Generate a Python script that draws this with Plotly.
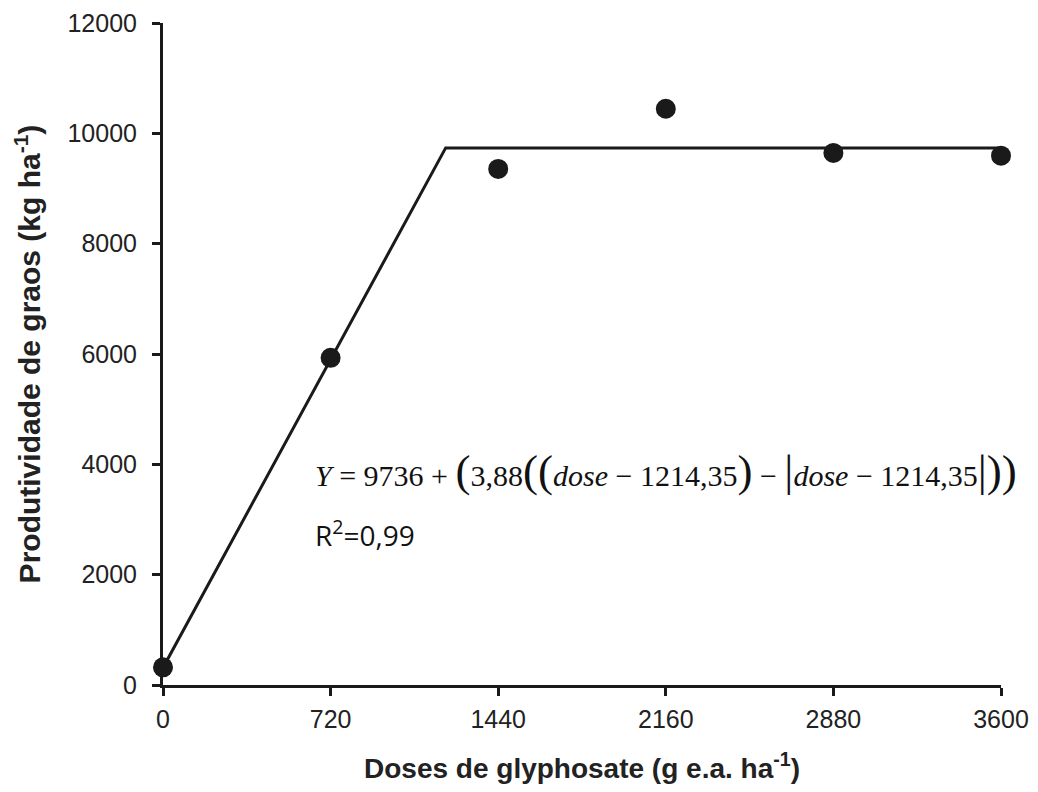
import plotly.graph_objects as go

doses = [0, 720, 1440, 2160, 2880, 3600]
yield_obs = [320, 5930, 9355, 10445, 9645, 9595]

fit_dose = [0, 1214.35, 3600]
fit_yield = [313, 9736, 9736]

x_ticks = [0, 720, 1440, 2160, 2880, 3600]
y_ticks = [0, 2000, 4000, 6000, 8000, 10000, 12000]

fig = go.Figure()
fig.add_trace(go.Scatter(x=fit_dose, y=fit_yield, mode="lines",
                         line=dict(color="#1a1a1a", width=3),
                         showlegend=False, cliponaxis=False))
fig.add_trace(go.Scatter(x=doses, y=yield_obs, mode="markers",
                         marker=dict(color="#1a1a1a", size=20, symbol="circle"),
                         showlegend=False, cliponaxis=False))

SANS = "Liberation Sans, Arial, sans-serif"
fig.update_layout(
    width=1022, height=776,
    margin=dict(l=155, r=29, t=15, b=99),
    plot_bgcolor="white", paper_bgcolor="white",
    font=dict(family=SANS, size=25, color="#222"),
    xaxis=dict(range=[0, 3600], tickvals=x_ticks, ticktext=[str(v) for v in x_ticks],
               automargin=False,
               showgrid=False, zeroline=False, showline=True, linecolor="#1a1a1a",
               linewidth=3, ticks="outside", ticklen=8, tickwidth=3, tickcolor="#1a1a1a",
               tickfont=dict(family=SANS, size=25), ticklabelstandoff=2,
               title=dict(text="<b>Doses de glyphosate (g e.a. ha<sup>-1</sup>)</b>",
                          font=dict(family=SANS, size=28), standoff=28)),
    yaxis=dict(range=[0, 12000], tickvals=y_ticks, ticktext=[str(v) for v in y_ticks],
               automargin=False,
               showgrid=False, zeroline=False, showline=True, linecolor="#1a1a1a",
               linewidth=3, ticks="outside", ticklen=8, tickwidth=3, tickcolor="#1a1a1a",
               tickfont=dict(family=SANS, size=25), ticklabelstandoff=10,
               title=dict(text="<b>Produtividade de graos (kg ha<sup>-1</sup>)</b>",
                          font=dict(family=SANS, size=30), standoff=18)),
)

big = '<span style="font-size:45px">{}</span>'
eq = ("<i>Y</i> = 9736 + " + big.format("(") + "3,88" + big.format("((")
      + "<i>dose</i> − 1214,35" + big.format(")") + " − " + big.format("|")
      + "<i>dose</i> − 1214,35" + big.format("|))"))
fig.add_annotation(
    xref="paper", yref="paper", x=(313 - 163) / 838, y=(685 - 471) / 662,
    xanchor="left", yanchor="middle", showarrow=False,
    text=eq,
    font=dict(family="Liberation Serif, Times New Roman, serif", size=30, color="#111"),
)
fig.add_annotation(
    xref="paper", yref="paper", x=(313 - 163) / 838, y=(685 - 533) / 662,
    xanchor="left", yanchor="middle", showarrow=False,
    text="R<sup>2</sup>=0,99",
    font=dict(family="Open Sans, Liberation Sans", size=28, color="#111"),
)

fig.write_html("out.html")
